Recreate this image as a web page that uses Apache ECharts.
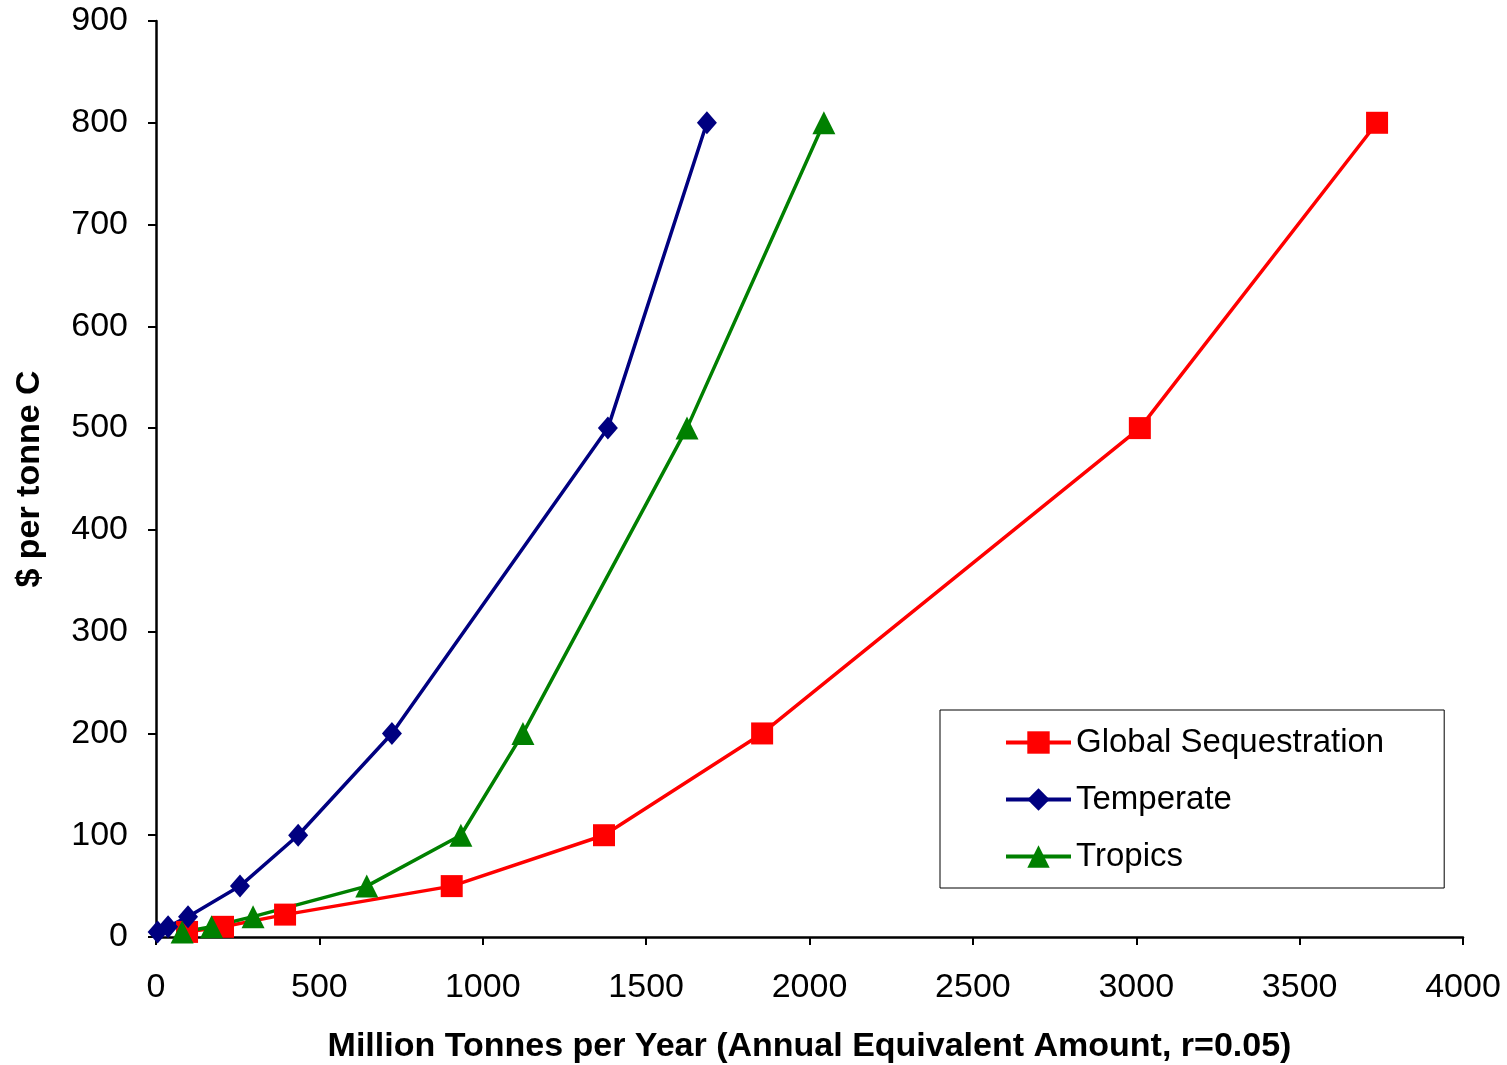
<!DOCTYPE html>
<html>
<head>
<meta charset="utf-8">
<script src="https://cdn.jsdelivr.net/npm/echarts@6/dist/echarts.min.js"></script>
<style>
html,body{margin:0;padding:0;background:#fff;}
#chart{width:1507px;height:1065px;}
</style>
</head>
<body>
<div id="chart"></div>
<script>
const seriesNames = ['Global Sequestration', 'Temperate', 'Tropics'];
const globalX = [95, 205, 395, 905, 1371, 1855, 3011, 3737];
const globalY = [5, 10, 22, 50, 100, 200, 500, 800];
const temperateX = [5, 37, 98, 257, 435, 722, 1383, 1686];
const temperateY = [5, 10, 20, 50, 100, 200, 500, 800];
const tropicsX = [80, 170, 297, 645, 933, 1123, 1625, 2044];
const tropicsY = [5, 10, 20, 50, 100, 200, 500, 800];
const xTitle = 'Million Tonnes per Year (Annual Equivalent Amount, r=0.05)';
const yTitle = '$ per tonne C';

function pairs(xs, ys) { return xs.map((x, i) => [x, ys[i]]); }

const FONT = "'Liberation Sans', Arial, sans-serif";
const chart = echarts.init(document.getElementById('chart'));
const axisCommon = {
  axisLine: { show: true, lineStyle: { color: '#000', width: 2.5 } },
  axisTick: { show: true, inside: false, length: 8, lineStyle: { color: '#000', width: 2 } },
  splitLine: { show: false },
  axisLabel: { color: '#000', fontSize: 34, fontFamily: FONT, formatter: v => String(v) },
  nameTextStyle: { color: '#000', fontSize: 34, fontWeight: 'bold', fontFamily: FONT }
};
chart.setOption({
  animation: false,
  backgroundColor: '#fff',
  grid: { left: 156, right: 44, top: 21, bottom: 128, containLabel: false, outerBoundsMode: 'none' },
  xAxis: Object.assign({}, axisCommon, {
    type: 'value', min: 0, max: 4000, interval: 500,
    name: xTitle, nameLocation: 'middle', nameGap: 93,
    axisLabel: Object.assign({}, axisCommon.axisLabel, { margin: 34 })
  }),
  yAxis: Object.assign({}, axisCommon, {
    type: 'value', min: 0, max: 900, interval: 100,
    name: yTitle, nameLocation: 'middle', nameGap: 109, nameRotate: 90,
    axisLabel: Object.assign({}, axisCommon.axisLabel, { margin: 28 })
  }),
  legend: {
    orient: 'vertical', left: 940, top: 710,
    padding: [16, 60, 15, 64],
    itemWidth: 65, itemHeight: 28, itemGap: 24,
    backgroundColor: '#fff', borderColor: '#000', borderWidth: 1,
    lineStyle: { width: 4 },
    textStyle: { color: '#000', fontSize: 33, fontFamily: FONT },
    data: seriesNames
  },
  series: [
    { name: seriesNames[0], type: 'line', data: pairs(globalX, globalY),
      symbol: 'rect', symbolSize: 22, color: '#ff0000',
      lineStyle: { color: '#ff0000', width: 3.5 }, itemStyle: { color: '#ff0000' } },
    { name: seriesNames[1], type: 'line', data: pairs(temperateX, temperateY),
      symbol: 'diamond', symbolSize: [20, 23], color: '#000080',
      lineStyle: { color: '#000080', width: 3.5 }, itemStyle: { color: '#000080' } },
    { name: seriesNames[2], type: 'line', data: pairs(tropicsX, tropicsY),
      symbol: 'triangle', symbolSize: 23, color: '#008000',
      lineStyle: { color: '#008000', width: 3.5 }, itemStyle: { color: '#008000' } }
  ]
});
</script>
</body>
</html>
